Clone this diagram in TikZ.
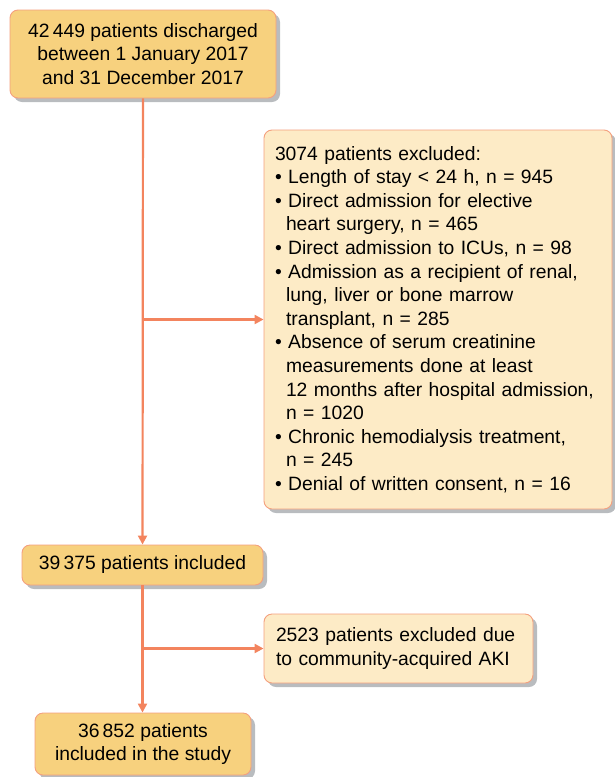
\documentclass[tikz,border=0pt]{standalone}
\usepackage{fontspec}
\setmainfont{Liberation Sans}
\usetikzlibrary{arrows.meta,positioning,shadows}
\definecolor{boxgold}{RGB}{247, 209, 126}
\definecolor{boxcream}{RGB}{253, 235, 198}
\definecolor{boxedge}{RGB}{244, 160, 126}
\definecolor{flowline}{RGB}{243, 132, 94}
\definecolor{shadowgray}{RGB}{185, 188, 191}

\tikzset{
  basebox/.style={draw=boxedge,line width=0.9pt,rectangle,rounded corners=8pt,
    drop shadow={shadow xshift=4pt,shadow yshift=-4pt,fill=shadowgray,opacity=1},
    font=\fontsize{19.3}{23.6}\selectfont,inner sep=0pt},
  mainbox/.style={basebox,fill=boxgold,align=center},
  sidebox/.style={basebox,fill=boxcream,align=left},
  flow/.style={draw=flowline,line width=2.2pt,-{Triangle[length=9pt,width=9pt]}}
}
\newcommand{\hang}{\hspace*{11pt}}

\begin{document}
\begin{tikzpicture}[x=1pt,y=-1pt]
\useasboundingbox (0,0) rectangle (614,777);
\node[mainbox,minimum width=266pt,minimum height=88pt](disch) at (143,54)
  {42\,449 patients discharged\\between 1 January 2017\\and 31 December 2017};
\node[sidebox,minimum width=348pt,minimum height=379pt,text width=326pt](excl) at (438,319.5)
  {3074 patients excluded:\\
   • Length of stay < 24 h, n = 945\\
   • Direct admission for elective\\
   \hang heart surgery, n = 465\\
   • Direct admission to ICUs, n = 98\\
   • Admission as a recipient of renal,\\
   \hang lung, liver or bone marrow\\
   \hang transplant, n = 285\\
   • Absence of serum creatinine\\
   \hang measurements done at least\\
   \hang 12 months after hospital admission,\\
   \hang n = 1020\\
   • Chronic hemodialysis treatment,\\
   \hang n = 245\\
   • Denial of written consent, n = 16};
\node[mainbox,minimum width=241pt,minimum height=40pt](incl) at (142.5,565)
  {39\,375 patients included};
\node[sidebox,minimum width=269pt,minimum height=69pt,text width=245pt](aki) at (398.5,648.5)
  {2523 patients excluded due\\to community-acquired AKI};
\node[mainbox,minimum width=216pt,minimum height=62pt](study) at (143,744)
  {36\,852 patients\\included in the study};
% main flow
\draw[flow](disch)--(incl);
\draw[flow](incl)--(study.north -| incl.south);
% exclusions
\coordinate(j1) at (disch.south |- excl.west);
\coordinate(j2) at (incl.south |- aki.west);
\draw[flow](j1)--(excl.west);
\draw[flow](j2)--(aki.west);
\end{tikzpicture}
\end{document}
